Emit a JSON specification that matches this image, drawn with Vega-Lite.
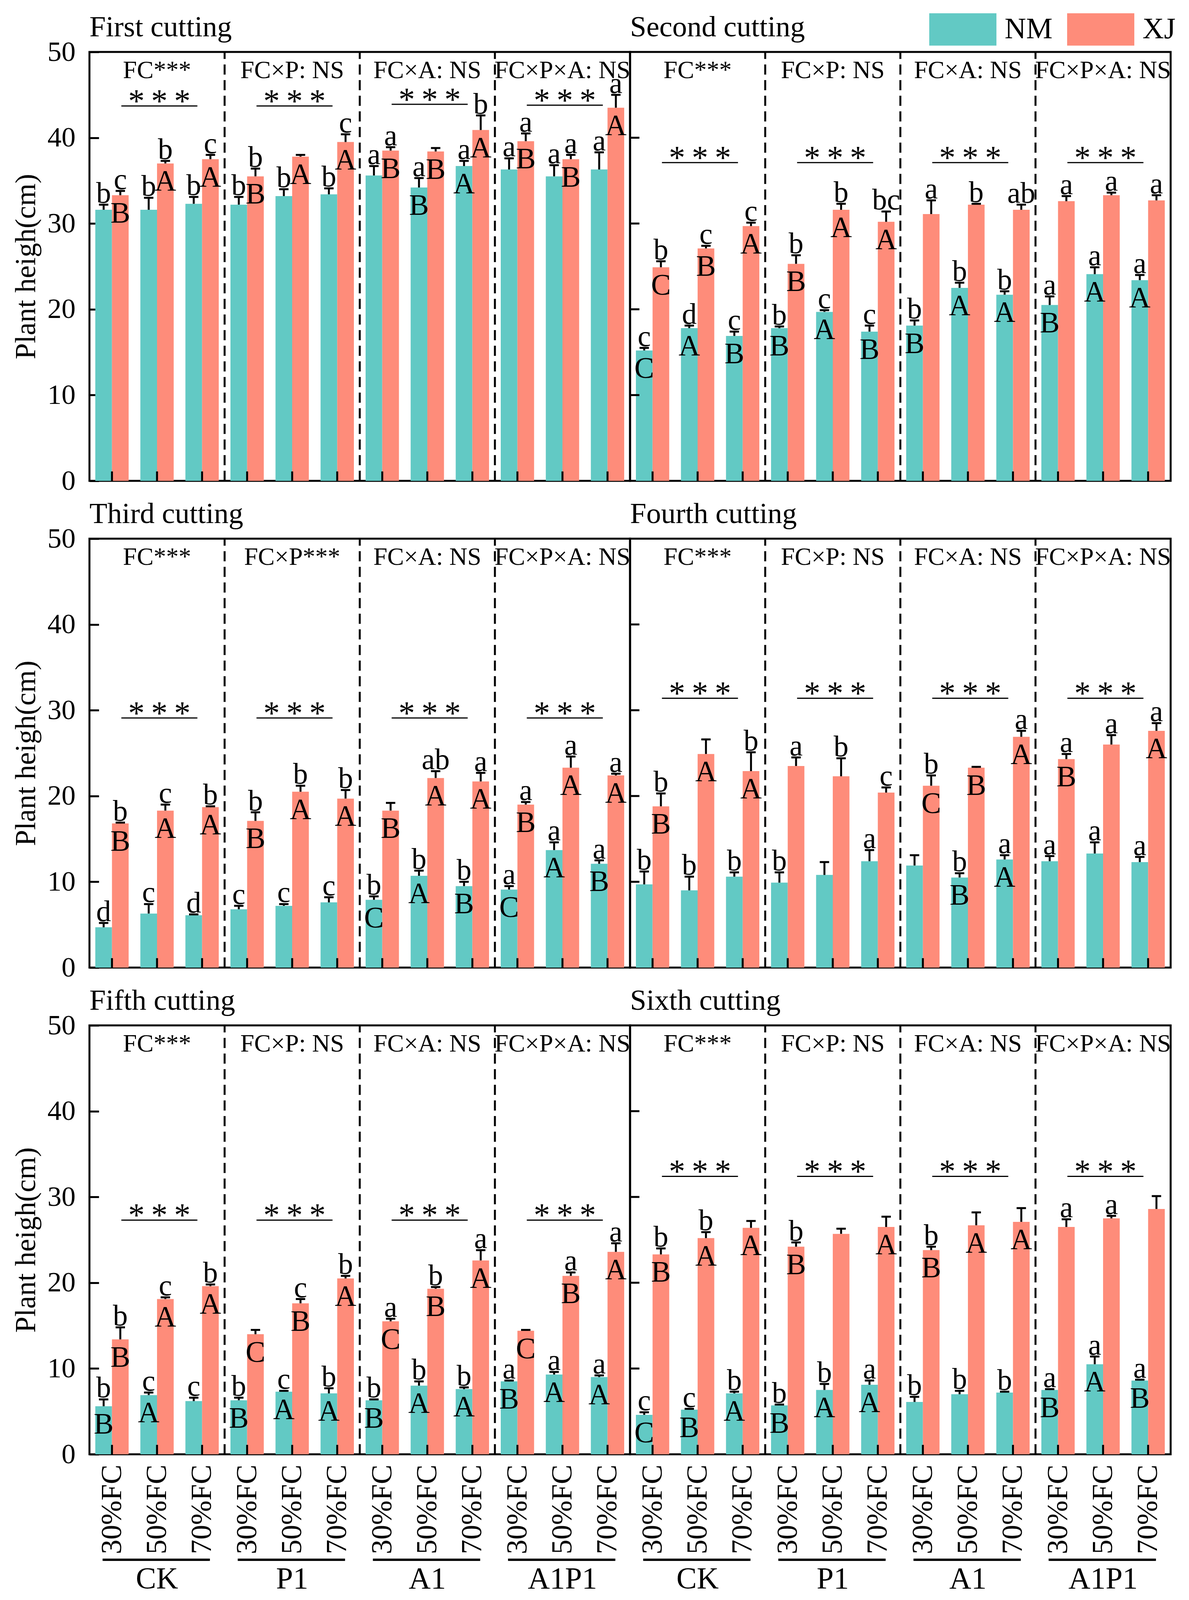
{
  "$schema": "https://vega.github.io/schema/vega-lite/v6.json",
  "padding": {"left": 30, "right": 36, "top": 30, "bottom": 20},
  "background": "white",
  "config": {
    "font": "Liberation Serif",
    "view": {"stroke": "black", "strokeWidth": 5},
    "axis": {
      "domain": false, "grid": false, "ticks": true, "tickColor": "black", "tickWidth": 5, "tickSize": -24,
      "labelColor": "black", "labelFontSize": 72, "labelFont": "Liberation Serif",
      "titleColor": "black", "titleFontSize": 74, "titleFontWeight": "normal", "titleFont": "Liberation Serif"
    },
    "text": {"color": "black", "font": "Liberation Serif"}
  },
  "data": {
    "values": [
      {"t":"b","p":"First cutting","k":"CK|30%FC","c":"NM","v":31.6,"e":32.2,"lo":"b","up":""},
      {"t":"b","p":"First cutting","k":"CK|30%FC","c":"XJ","v":33.3,"e":33.8,"lo":"c","up":"B"},
      {"t":"b","p":"First cutting","k":"CK|50%FC","c":"NM","v":31.6,"e":33.0,"lo":"b","up":""},
      {"t":"b","p":"First cutting","k":"CK|50%FC","c":"XJ","v":37.0,"e":37.3,"lo":"b","up":"A"},
      {"t":"b","p":"First cutting","k":"CK|70%FC","c":"NM","v":32.3,"e":33.1,"lo":"b","up":""},
      {"t":"b","p":"First cutting","k":"CK|70%FC","c":"XJ","v":37.5,"e":38.0,"lo":"c","up":"A"},
      {"t":"b","p":"First cutting","k":"P1|30%FC","c":"NM","v":32.2,"e":33.1,"lo":"b","up":""},
      {"t":"b","p":"First cutting","k":"P1|30%FC","c":"XJ","v":35.5,"e":36.4,"lo":"b","up":"B"},
      {"t":"b","p":"First cutting","k":"P1|50%FC","c":"NM","v":33.2,"e":34.0,"lo":"b","up":""},
      {"t":"b","p":"First cutting","k":"P1|50%FC","c":"XJ","v":37.8,"e":38.0,"lo":"","up":"A"},
      {"t":"b","p":"First cutting","k":"P1|70%FC","c":"NM","v":33.4,"e":34.1,"lo":"b","up":""},
      {"t":"b","p":"First cutting","k":"P1|70%FC","c":"XJ","v":39.5,"e":40.4,"lo":"c","up":"A"},
      {"t":"b","p":"First cutting","k":"A1|30%FC","c":"NM","v":35.6,"e":36.7,"lo":"a","up":""},
      {"t":"b","p":"First cutting","k":"A1|30%FC","c":"XJ","v":38.5,"e":38.9,"lo":"a","up":"B"},
      {"t":"b","p":"First cutting","k":"A1|50%FC","c":"NM","v":34.2,"e":35.3,"lo":"a","up":"B"},
      {"t":"b","p":"First cutting","k":"A1|50%FC","c":"XJ","v":38.4,"e":38.8,"lo":"","up":"B"},
      {"t":"b","p":"First cutting","k":"A1|70%FC","c":"NM","v":36.7,"e":37.3,"lo":"a","up":"A"},
      {"t":"b","p":"First cutting","k":"A1|70%FC","c":"XJ","v":40.9,"e":42.6,"lo":"b","up":"A"},
      {"t":"b","p":"First cutting","k":"A1P1|30%FC","c":"NM","v":36.3,"e":37.6,"lo":"a","up":""},
      {"t":"b","p":"First cutting","k":"A1P1|30%FC","c":"XJ","v":39.6,"e":40.5,"lo":"a","up":"B"},
      {"t":"b","p":"First cutting","k":"A1P1|50%FC","c":"NM","v":35.5,"e":36.8,"lo":"a","up":""},
      {"t":"b","p":"First cutting","k":"A1P1|50%FC","c":"XJ","v":37.5,"e":38.0,"lo":"a","up":"B"},
      {"t":"b","p":"First cutting","k":"A1P1|70%FC","c":"NM","v":36.3,"e":38.3,"lo":"a","up":""},
      {"t":"b","p":"First cutting","k":"A1P1|70%FC","c":"XJ","v":43.5,"e":45.0,"lo":"a","up":"A"},

      {"t":"b","p":"Second cutting","k":"CK|30%FC","c":"NM","v":15.2,"e":15.5,"lo":"c","up":"C"},
      {"t":"b","p":"Second cutting","k":"CK|30%FC","c":"XJ","v":24.9,"e":25.6,"lo":"b","up":"C"},
      {"t":"b","p":"Second cutting","k":"CK|50%FC","c":"NM","v":17.8,"e":18.1,"lo":"d","up":"A"},
      {"t":"b","p":"Second cutting","k":"CK|50%FC","c":"XJ","v":27.1,"e":27.4,"lo":"c","up":"B"},
      {"t":"b","p":"Second cutting","k":"CK|70%FC","c":"NM","v":16.9,"e":17.4,"lo":"c","up":"B"},
      {"t":"b","p":"Second cutting","k":"CK|70%FC","c":"XJ","v":29.7,"e":30.1,"lo":"c","up":"A"},
      {"t":"b","p":"Second cutting","k":"P1|30%FC","c":"NM","v":17.8,"e":18.0,"lo":"b","up":"B"},
      {"t":"b","p":"Second cutting","k":"P1|30%FC","c":"XJ","v":25.3,"e":26.3,"lo":"b","up":"B"},
      {"t":"b","p":"Second cutting","k":"P1|50%FC","c":"NM","v":19.7,"e":19.9,"lo":"c","up":"A"},
      {"t":"b","p":"Second cutting","k":"P1|50%FC","c":"XJ","v":31.6,"e":32.3,"lo":"b","up":"A"},
      {"t":"b","p":"Second cutting","k":"P1|70%FC","c":"NM","v":17.4,"e":18.1,"lo":"c","up":"B"},
      {"t":"b","p":"Second cutting","k":"P1|70%FC","c":"XJ","v":30.2,"e":31.4,"lo":"bc","up":"A"},
      {"t":"b","p":"Second cutting","k":"A1|30%FC","c":"NM","v":18.1,"e":18.7,"lo":"b","up":"B"},
      {"t":"b","p":"Second cutting","k":"A1|30%FC","c":"XJ","v":31.1,"e":32.7,"lo":"a","up":""},
      {"t":"b","p":"Second cutting","k":"A1|50%FC","c":"NM","v":22.5,"e":23.1,"lo":"b","up":"A"},
      {"t":"b","p":"Second cutting","k":"A1|50%FC","c":"XJ","v":32.2,"e":32.3,"lo":"b","up":""},
      {"t":"b","p":"Second cutting","k":"A1|70%FC","c":"NM","v":21.7,"e":22.1,"lo":"b","up":"A"},
      {"t":"b","p":"Second cutting","k":"A1|70%FC","c":"XJ","v":31.6,"e":32.2,"lo":"ab","up":""},
      {"t":"b","p":"Second cutting","k":"A1P1|30%FC","c":"NM","v":20.5,"e":21.5,"lo":"a","up":"B"},
      {"t":"b","p":"Second cutting","k":"A1P1|30%FC","c":"XJ","v":32.6,"e":33.2,"lo":"a","up":""},
      {"t":"b","p":"Second cutting","k":"A1P1|50%FC","c":"NM","v":24.1,"e":24.9,"lo":"a","up":"A"},
      {"t":"b","p":"Second cutting","k":"A1P1|50%FC","c":"XJ","v":33.3,"e":33.6,"lo":"a","up":""},
      {"t":"b","p":"Second cutting","k":"A1P1|70%FC","c":"NM","v":23.4,"e":24.0,"lo":"a","up":"A"},
      {"t":"b","p":"Second cutting","k":"A1P1|70%FC","c":"XJ","v":32.7,"e":33.3,"lo":"a","up":""},

      {"t":"b","p":"Third cutting","k":"CK|30%FC","c":"NM","v":4.7,"e":5.2,"lo":"d","up":""},
      {"t":"b","p":"Third cutting","k":"CK|30%FC","c":"XJ","v":16.8,"e":16.9,"lo":"b","up":"B"},
      {"t":"b","p":"Third cutting","k":"CK|50%FC","c":"NM","v":6.3,"e":7.4,"lo":"c","up":""},
      {"t":"b","p":"Third cutting","k":"CK|50%FC","c":"XJ","v":18.3,"e":19.0,"lo":"c","up":"A"},
      {"t":"b","p":"Third cutting","k":"CK|70%FC","c":"NM","v":6.1,"e":6.2,"lo":"d","up":""},
      {"t":"b","p":"Third cutting","k":"CK|70%FC","c":"XJ","v":18.7,"e":18.8,"lo":"b","up":"A"},
      {"t":"b","p":"Third cutting","k":"P1|30%FC","c":"NM","v":6.8,"e":7.2,"lo":"c","up":""},
      {"t":"b","p":"Third cutting","k":"P1|30%FC","c":"XJ","v":17.1,"e":18.1,"lo":"b","up":"B"},
      {"t":"b","p":"Third cutting","k":"P1|50%FC","c":"NM","v":7.2,"e":7.4,"lo":"c","up":""},
      {"t":"b","p":"Third cutting","k":"P1|50%FC","c":"XJ","v":20.5,"e":21.2,"lo":"b","up":"A"},
      {"t":"b","p":"Third cutting","k":"P1|70%FC","c":"NM","v":7.6,"e":8.2,"lo":"c","up":""},
      {"t":"b","p":"Third cutting","k":"P1|70%FC","c":"XJ","v":19.7,"e":20.7,"lo":"b","up":"A"},
      {"t":"b","p":"Third cutting","k":"A1|30%FC","c":"NM","v":7.9,"e":8.3,"lo":"b","up":"C"},
      {"t":"b","p":"Third cutting","k":"A1|30%FC","c":"XJ","v":18.3,"e":19.2,"lo":"","up":"B"},
      {"t":"b","p":"Third cutting","k":"A1|50%FC","c":"NM","v":10.7,"e":11.3,"lo":"b","up":"A"},
      {"t":"b","p":"Third cutting","k":"A1|50%FC","c":"XJ","v":22.1,"e":22.9,"lo":"ab","up":"A"},
      {"t":"b","p":"Third cutting","k":"A1|70%FC","c":"NM","v":9.5,"e":10.0,"lo":"b","up":"B"},
      {"t":"b","p":"Third cutting","k":"A1|70%FC","c":"XJ","v":21.7,"e":22.7,"lo":"a","up":"A"},
      {"t":"b","p":"Third cutting","k":"A1P1|30%FC","c":"NM","v":9.1,"e":9.5,"lo":"a","up":"C"},
      {"t":"b","p":"Third cutting","k":"A1P1|30%FC","c":"XJ","v":19.0,"e":19.3,"lo":"a","up":"B"},
      {"t":"b","p":"Third cutting","k":"A1P1|50%FC","c":"NM","v":13.7,"e":14.6,"lo":"a","up":"A"},
      {"t":"b","p":"Third cutting","k":"A1P1|50%FC","c":"XJ","v":23.3,"e":24.6,"lo":"a","up":"A"},
      {"t":"b","p":"Third cutting","k":"A1P1|70%FC","c":"NM","v":12.1,"e":12.5,"lo":"a","up":"B"},
      {"t":"b","p":"Third cutting","k":"A1P1|70%FC","c":"XJ","v":22.4,"e":22.6,"lo":"a","up":"A"},

      {"t":"b","p":"Fourth cutting","k":"CK|30%FC","c":"NM","v":9.7,"e":11.2,"lo":"b","up":""},
      {"t":"b","p":"Fourth cutting","k":"CK|30%FC","c":"XJ","v":18.8,"e":20.3,"lo":"b","up":"B"},
      {"t":"b","p":"Fourth cutting","k":"CK|50%FC","c":"NM","v":9.0,"e":10.6,"lo":"b","up":""},
      {"t":"b","p":"Fourth cutting","k":"CK|50%FC","c":"XJ","v":24.9,"e":26.6,"lo":"","up":"A"},
      {"t":"b","p":"Fourth cutting","k":"CK|70%FC","c":"NM","v":10.6,"e":11.1,"lo":"b","up":""},
      {"t":"b","p":"Fourth cutting","k":"CK|70%FC","c":"XJ","v":22.9,"e":25.1,"lo":"b","up":"A"},
      {"t":"b","p":"Fourth cutting","k":"P1|30%FC","c":"NM","v":9.9,"e":11.1,"lo":"b","up":""},
      {"t":"b","p":"Fourth cutting","k":"P1|30%FC","c":"XJ","v":23.5,"e":24.5,"lo":"a","up":""},
      {"t":"b","p":"Fourth cutting","k":"P1|50%FC","c":"NM","v":10.8,"e":12.3,"lo":"","up":""},
      {"t":"b","p":"Fourth cutting","k":"P1|50%FC","c":"XJ","v":22.3,"e":24.4,"lo":"b","up":""},
      {"t":"b","p":"Fourth cutting","k":"P1|70%FC","c":"NM","v":12.4,"e":13.7,"lo":"a","up":""},
      {"t":"b","p":"Fourth cutting","k":"P1|70%FC","c":"XJ","v":20.4,"e":21.0,"lo":"c","up":""},
      {"t":"b","p":"Fourth cutting","k":"A1|30%FC","c":"NM","v":11.9,"e":13.1,"lo":"","up":""},
      {"t":"b","p":"Fourth cutting","k":"A1|30%FC","c":"XJ","v":21.2,"e":22.4,"lo":"b","up":"C"},
      {"t":"b","p":"Fourth cutting","k":"A1|50%FC","c":"NM","v":10.5,"e":11.0,"lo":"b","up":"B"},
      {"t":"b","p":"Fourth cutting","k":"A1|50%FC","c":"XJ","v":23.3,"e":23.4,"lo":"","up":"B"},
      {"t":"b","p":"Fourth cutting","k":"A1|70%FC","c":"NM","v":12.6,"e":13.1,"lo":"a","up":"A"},
      {"t":"b","p":"Fourth cutting","k":"A1|70%FC","c":"XJ","v":26.9,"e":27.6,"lo":"a","up":"A"},
      {"t":"b","p":"Fourth cutting","k":"A1P1|30%FC","c":"NM","v":12.4,"e":13.0,"lo":"a","up":""},
      {"t":"b","p":"Fourth cutting","k":"A1P1|30%FC","c":"XJ","v":24.3,"e":24.9,"lo":"a","up":"B"},
      {"t":"b","p":"Fourth cutting","k":"A1P1|50%FC","c":"NM","v":13.3,"e":14.6,"lo":"a","up":""},
      {"t":"b","p":"Fourth cutting","k":"A1P1|50%FC","c":"XJ","v":26.0,"e":27.1,"lo":"a","up":""},
      {"t":"b","p":"Fourth cutting","k":"A1P1|70%FC","c":"NM","v":12.3,"e":12.9,"lo":"a","up":""},
      {"t":"b","p":"Fourth cutting","k":"A1P1|70%FC","c":"XJ","v":27.6,"e":28.5,"lo":"a","up":"A"},

      {"t":"b","p":"Fifth cutting","k":"CK|30%FC","c":"NM","v":5.6,"e":6.4,"lo":"b","up":"B"},
      {"t":"b","p":"Fifth cutting","k":"CK|30%FC","c":"XJ","v":13.4,"e":14.8,"lo":"b","up":"B"},
      {"t":"b","p":"Fifth cutting","k":"CK|50%FC","c":"NM","v":6.9,"e":7.2,"lo":"c","up":"A"},
      {"t":"b","p":"Fifth cutting","k":"CK|50%FC","c":"XJ","v":18.1,"e":18.3,"lo":"c","up":"A"},
      {"t":"b","p":"Fifth cutting","k":"CK|70%FC","c":"NM","v":6.2,"e":6.6,"lo":"c","up":""},
      {"t":"b","p":"Fifth cutting","k":"CK|70%FC","c":"XJ","v":19.6,"e":19.8,"lo":"b","up":"A"},
      {"t":"b","p":"Fifth cutting","k":"P1|30%FC","c":"NM","v":6.3,"e":6.6,"lo":"b","up":"B"},
      {"t":"b","p":"Fifth cutting","k":"P1|30%FC","c":"XJ","v":14.0,"e":14.5,"lo":"","up":"C"},
      {"t":"b","p":"Fifth cutting","k":"P1|50%FC","c":"NM","v":7.3,"e":7.4,"lo":"c","up":"A"},
      {"t":"b","p":"Fifth cutting","k":"P1|50%FC","c":"XJ","v":17.6,"e":18.1,"lo":"c","up":"B"},
      {"t":"b","p":"Fifth cutting","k":"P1|70%FC","c":"NM","v":7.1,"e":7.7,"lo":"b","up":"A"},
      {"t":"b","p":"Fifth cutting","k":"P1|70%FC","c":"XJ","v":20.5,"e":20.8,"lo":"b","up":"A"},
      {"t":"b","p":"Fifth cutting","k":"A1|30%FC","c":"NM","v":6.3,"e":6.4,"lo":"b","up":"B"},
      {"t":"b","p":"Fifth cutting","k":"A1|30%FC","c":"XJ","v":15.5,"e":15.8,"lo":"a","up":"C"},
      {"t":"b","p":"Fifth cutting","k":"A1|50%FC","c":"NM","v":8.0,"e":8.5,"lo":"b","up":"A"},
      {"t":"b","p":"Fifth cutting","k":"A1|50%FC","c":"XJ","v":19.3,"e":19.5,"lo":"b","up":"B"},
      {"t":"b","p":"Fifth cutting","k":"A1|70%FC","c":"NM","v":7.6,"e":7.8,"lo":"b","up":"A"},
      {"t":"b","p":"Fifth cutting","k":"A1|70%FC","c":"XJ","v":22.6,"e":23.8,"lo":"a","up":"A"},
      {"t":"b","p":"Fifth cutting","k":"A1P1|30%FC","c":"NM","v":8.5,"e":8.6,"lo":"a","up":"B"},
      {"t":"b","p":"Fifth cutting","k":"A1P1|30%FC","c":"XJ","v":14.4,"e":14.5,"lo":"","up":"C"},
      {"t":"b","p":"Fifth cutting","k":"A1P1|50%FC","c":"NM","v":9.3,"e":9.6,"lo":"a","up":"A"},
      {"t":"b","p":"Fifth cutting","k":"A1P1|50%FC","c":"XJ","v":20.8,"e":21.2,"lo":"a","up":"B"},
      {"t":"b","p":"Fifth cutting","k":"A1P1|70%FC","c":"NM","v":9.0,"e":9.2,"lo":"a","up":"A"},
      {"t":"b","p":"Fifth cutting","k":"A1P1|70%FC","c":"XJ","v":23.6,"e":24.6,"lo":"a","up":"A"},

      {"t":"b","p":"Sixth cutting","k":"CK|30%FC","c":"NM","v":4.6,"e":4.9,"lo":"c","up":"C"},
      {"t":"b","p":"Sixth cutting","k":"CK|30%FC","c":"XJ","v":23.3,"e":24.0,"lo":"b","up":"B"},
      {"t":"b","p":"Sixth cutting","k":"CK|50%FC","c":"NM","v":5.2,"e":5.3,"lo":"c","up":"B"},
      {"t":"b","p":"Sixth cutting","k":"CK|50%FC","c":"XJ","v":25.2,"e":25.9,"lo":"b","up":"A"},
      {"t":"b","p":"Sixth cutting","k":"CK|70%FC","c":"NM","v":7.1,"e":7.3,"lo":"b","up":"A"},
      {"t":"b","p":"Sixth cutting","k":"CK|70%FC","c":"XJ","v":26.4,"e":27.2,"lo":"","up":"A"},
      {"t":"b","p":"Sixth cutting","k":"P1|30%FC","c":"NM","v":5.7,"e":5.8,"lo":"b","up":"B"},
      {"t":"b","p":"Sixth cutting","k":"P1|30%FC","c":"XJ","v":24.2,"e":24.7,"lo":"b","up":"B"},
      {"t":"b","p":"Sixth cutting","k":"P1|50%FC","c":"NM","v":7.5,"e":8.2,"lo":"b","up":"A"},
      {"t":"b","p":"Sixth cutting","k":"P1|50%FC","c":"XJ","v":25.7,"e":26.3,"lo":"","up":""},
      {"t":"b","p":"Sixth cutting","k":"P1|70%FC","c":"NM","v":8.1,"e":8.6,"lo":"a","up":"A"},
      {"t":"b","p":"Sixth cutting","k":"P1|70%FC","c":"XJ","v":26.5,"e":27.7,"lo":"","up":"A"},
      {"t":"b","p":"Sixth cutting","k":"A1|30%FC","c":"NM","v":6.1,"e":6.7,"lo":"b","up":""},
      {"t":"b","p":"Sixth cutting","k":"A1|30%FC","c":"XJ","v":23.8,"e":24.2,"lo":"b","up":"B"},
      {"t":"b","p":"Sixth cutting","k":"A1|50%FC","c":"NM","v":7.0,"e":7.4,"lo":"b","up":""},
      {"t":"b","p":"Sixth cutting","k":"A1|50%FC","c":"XJ","v":26.7,"e":28.2,"lo":"","up":"A"},
      {"t":"b","p":"Sixth cutting","k":"A1|70%FC","c":"NM","v":7.2,"e":7.3,"lo":"b","up":""},
      {"t":"b","p":"Sixth cutting","k":"A1|70%FC","c":"XJ","v":27.1,"e":28.7,"lo":"","up":"A"},
      {"t":"b","p":"Sixth cutting","k":"A1P1|30%FC","c":"NM","v":7.5,"e":7.6,"lo":"a","up":"B"},
      {"t":"b","p":"Sixth cutting","k":"A1P1|30%FC","c":"XJ","v":26.5,"e":27.4,"lo":"a","up":""},
      {"t":"b","p":"Sixth cutting","k":"A1P1|50%FC","c":"NM","v":10.5,"e":11.4,"lo":"a","up":"A"},
      {"t":"b","p":"Sixth cutting","k":"A1P1|50%FC","c":"XJ","v":27.5,"e":27.8,"lo":"a","up":""},
      {"t":"b","p":"Sixth cutting","k":"A1P1|70%FC","c":"NM","v":8.6,"e":8.7,"lo":"a","up":"B"},
      {"t":"b","p":"Sixth cutting","k":"A1P1|70%FC","c":"XJ","v":28.6,"e":30.1,"lo":"","up":""},

      {"t":"s","p":"First cutting","k":"CK|70%FC"},{"t":"s","p":"First cutting","k":"P1|70%FC"},{"t":"s","p":"First cutting","k":"A1|70%FC"},
      {"t":"s","p":"Second cutting","k":"CK|70%FC"},{"t":"s","p":"Second cutting","k":"P1|70%FC"},{"t":"s","p":"Second cutting","k":"A1|70%FC"},
      {"t":"s","p":"Third cutting","k":"CK|70%FC"},{"t":"s","p":"Third cutting","k":"P1|70%FC"},{"t":"s","p":"Third cutting","k":"A1|70%FC"},
      {"t":"s","p":"Fourth cutting","k":"CK|70%FC"},{"t":"s","p":"Fourth cutting","k":"P1|70%FC"},{"t":"s","p":"Fourth cutting","k":"A1|70%FC"},
      {"t":"s","p":"Fifth cutting","k":"CK|70%FC"},{"t":"s","p":"Fifth cutting","k":"P1|70%FC"},{"t":"s","p":"Fifth cutting","k":"A1|70%FC"},
      {"t":"s","p":"Sixth cutting","k":"CK|70%FC"},{"t":"s","p":"Sixth cutting","k":"P1|70%FC"},{"t":"s","p":"Sixth cutting","k":"A1|70%FC"},

      {"t":"y","p":"Second cutting","k":"CK|30%FC","y":10},{"t":"y","p":"Second cutting","k":"CK|30%FC","y":20},{"t":"y","p":"Second cutting","k":"CK|30%FC","y":30},{"t":"y","p":"Second cutting","k":"CK|30%FC","y":40},
      {"t":"y","p":"Fourth cutting","k":"CK|30%FC","y":10},{"t":"y","p":"Fourth cutting","k":"CK|30%FC","y":20},{"t":"y","p":"Fourth cutting","k":"CK|30%FC","y":30},{"t":"y","p":"Fourth cutting","k":"CK|30%FC","y":40},
      {"t":"y","p":"Sixth cutting","k":"CK|30%FC","y":10},{"t":"y","p":"Sixth cutting","k":"CK|30%FC","y":20},{"t":"y","p":"Sixth cutting","k":"CK|30%FC","y":30},{"t":"y","p":"Sixth cutting","k":"CK|30%FC","y":40},

      {"t":"f","p":"First cutting","k":"CK|50%FC","lab":"FC***"},{"t":"f","p":"First cutting","k":"P1|50%FC","lab":"FC×P: NS"},{"t":"f","p":"First cutting","k":"A1|50%FC","lab":"FC×A: NS"},{"t":"f","p":"First cutting","k":"A1P1|50%FC","lab":"FC×P×A: NS"},
      {"t":"f","p":"Second cutting","k":"CK|50%FC","lab":"FC***"},{"t":"f","p":"Second cutting","k":"P1|50%FC","lab":"FC×P: NS"},{"t":"f","p":"Second cutting","k":"A1|50%FC","lab":"FC×A: NS"},{"t":"f","p":"Second cutting","k":"A1P1|50%FC","lab":"FC×P×A: NS"},
      {"t":"f","p":"Third cutting","k":"CK|50%FC","lab":"FC***"},{"t":"f","p":"Third cutting","k":"P1|50%FC","lab":"FC×P***"},{"t":"f","p":"Third cutting","k":"A1|50%FC","lab":"FC×A: NS"},{"t":"f","p":"Third cutting","k":"A1P1|50%FC","lab":"FC×P×A: NS"},
      {"t":"f","p":"Fourth cutting","k":"CK|50%FC","lab":"FC***"},{"t":"f","p":"Fourth cutting","k":"P1|50%FC","lab":"FC×P: NS"},{"t":"f","p":"Fourth cutting","k":"A1|50%FC","lab":"FC×A: NS"},{"t":"f","p":"Fourth cutting","k":"A1P1|50%FC","lab":"FC×P×A: NS"},
      {"t":"f","p":"Fifth cutting","k":"CK|50%FC","lab":"FC***"},{"t":"f","p":"Fifth cutting","k":"P1|50%FC","lab":"FC×P: NS"},{"t":"f","p":"Fifth cutting","k":"A1|50%FC","lab":"FC×A: NS"},{"t":"f","p":"Fifth cutting","k":"A1P1|50%FC","lab":"FC×P×A: NS"},
      {"t":"f","p":"Sixth cutting","k":"CK|50%FC","lab":"FC***"},{"t":"f","p":"Sixth cutting","k":"P1|50%FC","lab":"FC×P: NS"},{"t":"f","p":"Sixth cutting","k":"A1|50%FC","lab":"FC×A: NS"},{"t":"f","p":"Sixth cutting","k":"A1P1|50%FC","lab":"FC×P×A: NS"},

      {"t":"g","p":"First cutting","k1":"CK|30%FC","k2":"CK|70%FC","k":"CK|50%FC","y":43.7},
      {"t":"g","p":"First cutting","k1":"P1|30%FC","k2":"P1|70%FC","k":"P1|50%FC","y":43.7},
      {"t":"g","p":"First cutting","k1":"A1|30%FC","k2":"A1|70%FC","k":"A1|50%FC","y":43.9},
      {"t":"g","p":"First cutting","k1":"A1P1|30%FC","k2":"A1P1|70%FC","k":"A1P1|50%FC","y":43.8},
      {"t":"g","p":"Second cutting","k1":"CK|30%FC","k2":"CK|70%FC","k":"CK|50%FC","y":37.1},
      {"t":"g","p":"Second cutting","k1":"P1|30%FC","k2":"P1|70%FC","k":"P1|50%FC","y":37.1},
      {"t":"g","p":"Second cutting","k1":"A1|30%FC","k2":"A1|70%FC","k":"A1|50%FC","y":37.1},
      {"t":"g","p":"Second cutting","k1":"A1P1|30%FC","k2":"A1P1|70%FC","k":"A1P1|50%FC","y":37.1},
      {"t":"g","p":"Third cutting","k1":"CK|30%FC","k2":"CK|70%FC","k":"CK|50%FC","y":29.1},
      {"t":"g","p":"Third cutting","k1":"P1|30%FC","k2":"P1|70%FC","k":"P1|50%FC","y":29.1},
      {"t":"g","p":"Third cutting","k1":"A1|30%FC","k2":"A1|70%FC","k":"A1|50%FC","y":29.1},
      {"t":"g","p":"Third cutting","k1":"A1P1|30%FC","k2":"A1P1|70%FC","k":"A1P1|50%FC","y":29.1},
      {"t":"g","p":"Fourth cutting","k1":"CK|30%FC","k2":"CK|70%FC","k":"CK|50%FC","y":31.4},
      {"t":"g","p":"Fourth cutting","k1":"P1|30%FC","k2":"P1|70%FC","k":"P1|50%FC","y":31.4},
      {"t":"g","p":"Fourth cutting","k1":"A1|30%FC","k2":"A1|70%FC","k":"A1|50%FC","y":31.4},
      {"t":"g","p":"Fourth cutting","k1":"A1P1|30%FC","k2":"A1P1|70%FC","k":"A1P1|50%FC","y":31.4},
      {"t":"g","p":"Fifth cutting","k1":"CK|30%FC","k2":"CK|70%FC","k":"CK|50%FC","y":27.3},
      {"t":"g","p":"Fifth cutting","k1":"P1|30%FC","k2":"P1|70%FC","k":"P1|50%FC","y":27.3},
      {"t":"g","p":"Fifth cutting","k1":"A1|30%FC","k2":"A1|70%FC","k":"A1|50%FC","y":27.3},
      {"t":"g","p":"Fifth cutting","k1":"A1P1|30%FC","k2":"A1P1|70%FC","k":"A1P1|50%FC","y":27.3},
      {"t":"g","p":"Sixth cutting","k1":"CK|30%FC","k2":"CK|70%FC","k":"CK|50%FC","y":32.4},
      {"t":"g","p":"Sixth cutting","k1":"P1|30%FC","k2":"P1|70%FC","k":"P1|50%FC","y":32.4},
      {"t":"g","p":"Sixth cutting","k1":"A1|30%FC","k2":"A1|70%FC","k":"A1|50%FC","y":32.4},
      {"t":"g","p":"Sixth cutting","k1":"A1P1|30%FC","k2":"A1P1|70%FC","k":"A1P1|50%FC","y":32.4},

      {"t":"x","p":"Fifth cutting","k1":"CK|30%FC","k2":"CK|70%FC","k":"CK|50%FC","g":"CK"},
      {"t":"x","p":"Fifth cutting","k1":"P1|30%FC","k2":"P1|70%FC","k":"P1|50%FC","g":"P1"},
      {"t":"x","p":"Fifth cutting","k1":"A1|30%FC","k2":"A1|70%FC","k":"A1|50%FC","g":"A1"},
      {"t":"x","p":"Fifth cutting","k1":"A1P1|30%FC","k2":"A1P1|70%FC","k":"A1P1|50%FC","g":"A1P1"},
      {"t":"x","p":"Sixth cutting","k1":"CK|30%FC","k2":"CK|70%FC","k":"CK|50%FC","g":"CK"},
      {"t":"x","p":"Sixth cutting","k1":"P1|30%FC","k2":"P1|70%FC","k":"P1|50%FC","g":"P1"},
      {"t":"x","p":"Sixth cutting","k1":"A1|30%FC","k2":"A1|70%FC","k":"A1|50%FC","g":"A1"},
      {"t":"x","p":"Sixth cutting","k1":"A1P1|30%FC","k2":"A1P1|70%FC","k":"A1P1|50%FC","g":"A1P1"}
    ]
  },
  "facet": {
    "field": "p",
    "type": "nominal",
    "title": null,
    "sort": ["First cutting", "Second cutting", "Third cutting", "Fourth cutting", "Fifth cutting", "Sixth cutting"],
    "header": {"labelFontSize": 75, "labelFont": "Liberation Serif", "labelColor": "black", "labelAnchor": "start", "labelAlign": "left", "labelPadding": 22}
  },
  "columns": 2,
  "bounds": "flush",
  "spacing": {"row": 148, "column": 0},
  "spec": {
    "width": 1384,
    "height": 1098,
    "layer": [
      {
        "transform": [{"filter": "datum.t === 'b'"}],
        "mark": {"type": "bar"},
        "encoding": {
          "x": {
            "field": "k", "type": "nominal", "title": null,
            "scale": {
              "domain": ["CK|30%FC", "CK|50%FC", "CK|70%FC", "P1|30%FC", "P1|50%FC", "P1|70%FC", "A1|30%FC", "A1|50%FC", "A1|70%FC", "A1P1|30%FC", "A1P1|50%FC", "A1P1|70%FC"],
              "paddingInner": 0.26, "paddingOuter": 0.13
            },
            "axis": {"labelExpr": "split(datum.label, '|')[1]", "labelAngle": 270, "labelPadding": 50, "labelFontSize": 75, "labelLimit": 0}
          },
          "xOffset": {"field": "c", "type": "nominal", "scale": {"domain": ["NM", "XJ"], "paddingInner": 0, "paddingOuter": 0}},
          "y": {
            "field": "v", "type": "quantitative", "title": "Plant heigh(cm)",
            "scale": {"domain": [0, 50], "nice": false},
            "axis": {"values": [0, 10, 20, 30, 40, 50], "labelPadding": 60, "titlePadding": 16}
          },
          "color": {
            "field": "c", "type": "nominal",
            "scale": {"domain": ["NM", "XJ"], "range": ["#62C9C4", "#FE8C7A"]},
            "legend": {
              "title": null, "orient": "none", "legendX": 2193, "legendY": -101, "direction": "horizontal",
              "symbolType": "M-2,-0.96H2V0.96H-2Z", "symbolSize": 7396, "symbolStrokeWidth": 0, "symbolOpacity": 1,
              "labelFontSize": 76, "labelFont": "Liberation Serif", "labelColor": "black", "labelOffset": 64, "columnPadding": 37
            }
          }
        }
      },
      {
        "transform": [{"filter": "datum.t === 's'"}],
        "mark": {"type": "rule", "color": "black", "strokeWidth": 5, "strokeDash": [26, 14]},
        "encoding": {
          "x": {"field": "k", "type": "nominal", "title": null, "bandPosition": 1.176},
          "y": {"datum": 0},
          "y2": {"datum": 50}
        }
      },
      {
        "transform": [{"filter": "datum.t === 'b' && datum.c === 'NM'"}],
        "mark": {"type": "rule", "color": "black", "strokeWidth": 5},
        "encoding": {
          "x": {"field": "k", "type": "nominal", "title": null},
          "y": {"datum": 0},
          "y2": {"datum": 1.1}
        }
      },
      {
        "transform": [{"filter": "datum.t === 'y'"}],
        "mark": {"type": "rule", "color": "black", "strokeWidth": 5, "xOffset": -57.7, "x2Offset": -33.7},
        "encoding": {
          "x": {"field": "k", "type": "nominal", "title": null},
          "x2": {"field": "k"},
          "y": {"field": "y", "type": "quantitative", "title": "Plant heigh(cm)"}
        }
      },
      {
        "transform": [{"filter": "datum.t === 'b'"}],
        "mark": {"type": "rule", "color": "black", "strokeWidth": 5},
        "encoding": {
          "x": {"field": "k", "type": "nominal", "title": null},
          "xOffset": {"field": "c", "type": "nominal"},
          "y": {"field": "v", "type": "quantitative", "title": "Plant heigh(cm)"},
          "y2": {"field": "e"}
        }
      },
      {
        "transform": [{"filter": "datum.t === 'b'"}],
        "mark": {"type": "tick", "color": "black", "thickness": 5, "size": 24, "opacity": 1},
        "encoding": {
          "x": {"field": "k", "type": "nominal", "title": null},
          "xOffset": {"field": "c", "type": "nominal"},
          "y": {"field": "e", "type": "quantitative", "title": "Plant heigh(cm)"}
        }
      },
      {
        "transform": [{"filter": "datum.t === 'b'"}],
        "mark": {"type": "text", "fontSize": 76, "baseline": "alphabetic", "dy": -5},
        "encoding": {
          "x": {"field": "k", "type": "nominal", "title": null},
          "xOffset": {"field": "c", "type": "nominal"},
          "y": {"field": "e", "type": "quantitative", "title": "Plant heigh(cm)"},
          "text": {"field": "lo"}
        }
      },
      {
        "transform": [{"filter": "datum.t === 'b'"}],
        "mark": {"type": "text", "fontSize": 76, "baseline": "top", "dy": 10},
        "encoding": {
          "x": {"field": "k", "type": "nominal", "title": null},
          "xOffset": {"field": "c", "type": "nominal"},
          "y": {"field": "v", "type": "quantitative", "title": "Plant heigh(cm)"},
          "text": {"field": "up"}
        }
      },
      {
        "transform": [{"filter": "datum.t === 'f'"}],
        "mark": {"type": "text", "fontSize": 64, "baseline": "middle"},
        "encoding": {
          "x": {"field": "k", "type": "nominal", "title": null},
          "y": {"datum": 47.8},
          "text": {"field": "lab"}
        }
      },
      {
        "transform": [{"filter": "datum.t === 'g'"}],
        "mark": {"type": "rule", "color": "black", "strokeWidth": 3, "xOffset": 24, "x2Offset": -12},
        "encoding": {
          "x": {"field": "k1", "type": "nominal", "title": null},
          "x2": {"field": "k2"},
          "y": {"field": "y", "type": "quantitative", "title": "Plant heigh(cm)"}
        }
      },
      {
        "transform": [{"filter": "datum.t === 'g'"}],
        "mark": {"type": "text", "fontSize": 84, "baseline": "alphabetic", "dy": 16, "dx": 6, "text": "*\u2009*\u2009*"},
        "encoding": {
          "x": {"field": "k", "type": "nominal", "title": null},
          "y": {"field": "y", "type": "quantitative", "title": "Plant heigh(cm)"}
        }
      },
      {
        "transform": [{"filter": "datum.t === 'x'"}],
        "mark": {"type": "rule", "color": "black", "strokeWidth": 6, "xOffset": -24, "x2Offset": 20},
        "encoding": {
          "x": {"field": "k1", "type": "nominal", "title": null},
          "x2": {"field": "k2"},
          "y": {"datum": -12.3}
        }
      },
      {
        "transform": [{"filter": "datum.t === 'x'"}],
        "mark": {"type": "text", "fontSize": 78, "baseline": "alphabetic"},
        "encoding": {
          "x": {"field": "k", "type": "nominal", "title": null},
          "y": {"datum": -15.6},
          "text": {"field": "g"}
        }
      }
    ]
  }
}
